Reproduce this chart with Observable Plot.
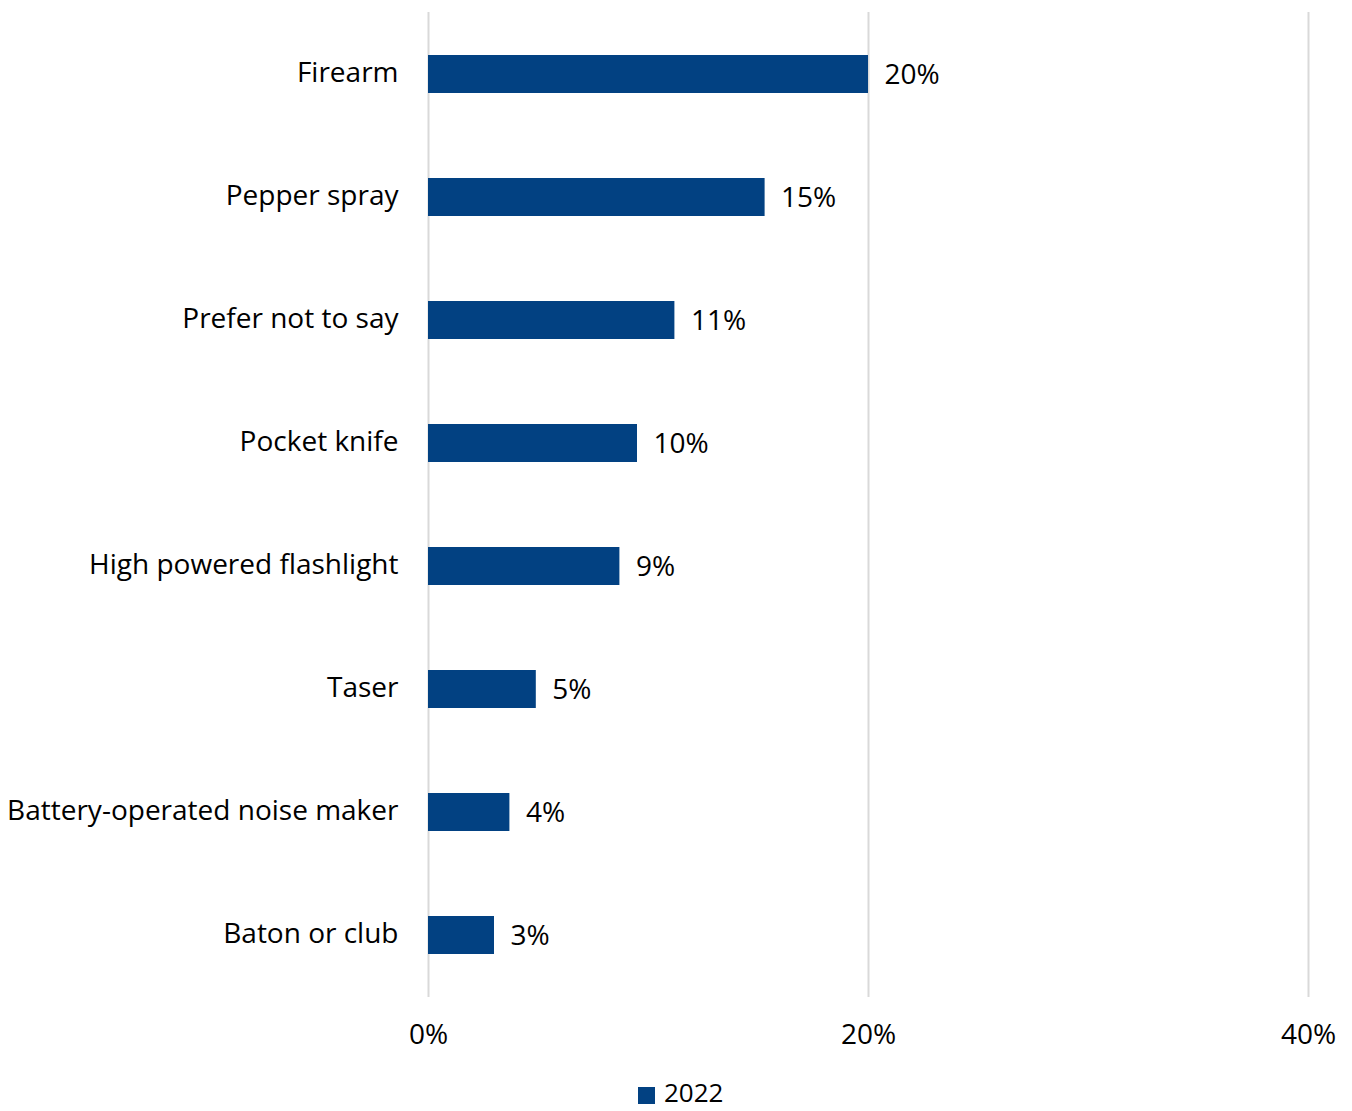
<!DOCTYPE html>
<html>
<head>
<meta charset="utf-8">
<script src="https://cdn.jsdelivr.net/npm/d3@7"></script>
<script src="https://cdn.jsdelivr.net/npm/@observablehq/plot@0.6"></script>
<style>
  html, body { margin: 0; padding: 0; background: #fff; overflow: hidden; }
  #chart { width: 1352px; }
  .legend { position: relative; height: 40px; font-family: "Open Sans", sans-serif; font-size: 26px; color: #000; }
  .legend .sw { position: absolute; left: 638px; top: 21px; width: 17px; height: 17px; background: #024182; }
  .legend .lb { position: absolute; left: 664px; top: 14px; line-height: 24px; }
</style>
</head>
<body>
<div id="chart"></div>
<script>
const categories = ["Firearm", "Pepper spray", "Prefer not to say", "Pocket knife", "High powered flashlight", "Taser", "Battery-operated noise maker", "Baton or club"];
const values = [20.0, 15.3, 11.2, 9.5, 8.7, 4.9, 3.7, 3.0];
const valueLabels = ["20%", "15%", "11%", "10%", "9%", "5%", "4%", "3%"];
const xTicks = [0, 20, 40];
const seriesName = "2022";

const data = categories.map((c, i) => ({category: c, value: values[i], label: valueLabels[i]}));

const chart = Plot.plot({
  width: 1352,
  height: 1066,
  marginLeft: 428,
  marginRight: 44,
  marginTop: 12,
  marginBottom: 69,
  style: {fontFamily: "'Open Sans', sans-serif", fontSize: "28px", color: "#000", background: "#fff"},
  x: {domain: [0, 40], ticks: xTicks, tickFormat: d => d + "%", label: null},
  y: {domain: categories, paddingInner: 0.69, paddingOuter: 0.345, label: null},
  marks: [
    Plot.gridX(xTicks, {stroke: "#d9d9d9", strokeOpacity: 1, strokeWidth: 2}),
    Plot.barX(data, {x: "value", y: "category", fill: "#024182"}),
    Plot.text(data, {x: "value", y: "category", text: "label", textAnchor: "start", dx: 16, dy: 1, fontSize: 28, fill: "#000"}),
    Plot.axisX({ticks: xTicks, tickSize: 0, tickPadding: 27, tickFormat: d => d + "%", fontSize: 28, label: null}),
    Plot.axisY({tickSize: 0, tickPadding: 30, fontSize: 28, dy: -1, label: null})
  ]
});
document.getElementById("chart").appendChild(chart);
const leg = document.createElement("div");
leg.className = "legend";
leg.innerHTML = `<span class="sw"></span><span class="lb">${seriesName}</span>`;
document.getElementById("chart").appendChild(leg);
</script>
</body>
</html>
